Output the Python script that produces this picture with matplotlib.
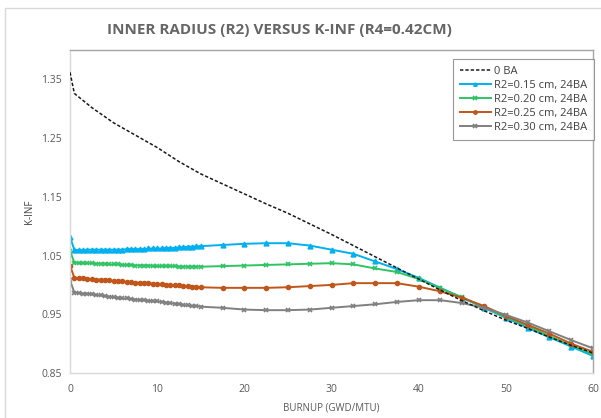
import matplotlib
matplotlib.use("Agg")
import matplotlib.pyplot as plt
from matplotlib.patches import Rectangle

# ---- data ----
burnup_dense = [i * 0.5 for i in range(31)]  # 0 .. 15
burnup_coarse = [17.5, 20, 22.5, 25, 27.5, 30, 32.5, 35, 37.5, 40, 42.5, 45,
                 47.5, 50, 52.5, 55, 57.5, 60]
burnup = burnup_dense + burnup_coarse

burnup_0ba = [0, 0.5, 2.5, 5, 7.5, 10, 12.5, 15, 17.5, 20, 22.5, 25, 27.5, 30,
              32.5, 35, 37.5, 40, 42.5, 45, 47.5, 50, 52.5, 55, 57.5, 60]
kinf_0ba = [1.362, 1.326, 1.302, 1.276, 1.255, 1.234, 1.210, 1.189, 1.172, 1.155,
            1.138, 1.122, 1.104, 1.086, 1.067, 1.048, 1.029, 1.010, 0.991, 0.973,
            0.956, 0.940, 0.926, 0.911, 0.897, 0.884]

kinf_r015 = [1.081, 1.060, 1.059, 1.059, 1.060, 1.060, 1.060, 1.060, 1.060, 1.060,
             1.060, 1.060, 1.060, 1.061, 1.061, 1.061, 1.061, 1.061, 1.062, 1.062,
             1.062, 1.062, 1.063, 1.063, 1.063, 1.064, 1.064, 1.065, 1.065, 1.066,
             1.066,
             1.068, 1.070, 1.071, 1.071, 1.067, 1.060, 1.053, 1.040, 1.027, 1.012,
             0.995, 0.978, 0.961, 0.944, 0.927, 0.911, 0.895, 0.879]
kinf_r020 = [1.058, 1.038, 1.037, 1.037, 1.037, 1.037, 1.036, 1.036, 1.036, 1.035,
             1.035, 1.035, 1.034, 1.034, 1.034, 1.033, 1.033, 1.033, 1.033, 1.032,
             1.032, 1.032, 1.032, 1.032, 1.032, 1.031, 1.031, 1.031, 1.031, 1.031,
             1.031,
             1.032, 1.033, 1.034, 1.035, 1.036, 1.037, 1.035, 1.028, 1.022, 1.010,
             0.994, 0.979, 0.962, 0.945, 0.930, 0.913, 0.897, 0.882]
kinf_r025 = [1.033, 1.012, 1.011, 1.011, 1.010, 1.010, 1.009, 1.009, 1.008, 1.008,
             1.007, 1.006, 1.006, 1.005, 1.005, 1.004, 1.004, 1.003, 1.003, 1.002,
             1.002, 1.001, 1.000, 1.000, 0.999, 0.999, 0.998, 0.998, 0.997, 0.997,
             0.996,
             0.995, 0.995, 0.995, 0.996, 0.998, 1.000, 1.003, 1.003, 1.003, 0.997,
             0.989, 0.978, 0.964, 0.947, 0.932, 0.917, 0.900, 0.886]
kinf_r030 = [1.008, 0.987, 0.986, 0.985, 0.985, 0.984, 0.983, 0.982, 0.981, 0.980,
             0.979, 0.978, 0.977, 0.977, 0.976, 0.975, 0.974, 0.974, 0.973, 0.972,
             0.972, 0.971, 0.970, 0.969, 0.968, 0.967, 0.966, 0.965, 0.964, 0.964,
             0.963,
             0.961, 0.958, 0.957, 0.957, 0.958, 0.961, 0.964, 0.967, 0.971, 0.974,
             0.974, 0.969, 0.961, 0.949, 0.936, 0.921, 0.906, 0.892]

labels = ["0 BA", "R2=0.15 cm, 24BA", "R2=0.20 cm, 24BA",
          "R2=0.25 cm, 24BA", "R2=0.30 cm, 24BA"]
x_ticks = [0, 10, 20, 30, 40, 50, 60]
y_ticks = [0.85, 0.95, 1.05, 1.15, 1.25, 1.35]

# ---- plot ----
plt.rcParams['font.family'] = ['Open Sans', 'DejaVu Sans']
fig = plt.figure(figsize=(6.01, 4.18), dpi=100)
fig.patch.set_facecolor('white')
fig.patches.append(Rectangle((5 / 601, -0.1), 1.2, 1 - 8 / 418 + 0.1,
                             transform=fig.transFigure, fill=False,
                             edgecolor='#d9d9d9', linewidth=1))

ax = fig.add_axes([70 / 601, 1 - 373 / 418, (593 - 70) / 601, (373 - 50) / 418])

ax.plot(burnup_0ba, kinf_0ba, color='#1a1a1a', linestyle=(0, (2.2, 1.3)),
        linewidth=1.1, label=labels[0], zorder=6)
ax.plot(burnup, kinf_r015, color='#00b0f0', linewidth=1.4, marker='^',
        markersize=3.5, label=labels[1])
ax.plot(burnup, kinf_r020, color='#2ec464', linewidth=1.4, marker='x',
        markersize=3.5, markeredgewidth=1.2, label=labels[2])
ax.plot(burnup, kinf_r025, color='#c0561a', linewidth=1.4, marker='o',
        markersize=3, label=labels[3])
ax.plot(burnup, kinf_r030, color='#808080', linewidth=1.4, marker='x',
        markersize=3.5, markeredgewidth=1.2, label=labels[4])

ax.set_xlim(0, 60)
ax.set_ylim(0.85, 1.40)
ax.set_xticks(x_ticks)
ax.set_yticks(y_ticks)
ax.set_yticklabels([f"{v:.2f}" for v in y_ticks])
ax.tick_params(length=0, labelsize=7.5, colors='#595959', pad=6)
ax.tick_params(axis='x', pad=8)

for s in ['left', 'bottom']:
    ax.spines[s].set_color('#d9d9d9')
for s in ['top', 'right']:
    ax.spines[s].set_color('#a6a6a6')
for s in ax.spines.values():
    s.set_linewidth(1.0)

ax.set_xlabel("BURNUP (GWD/MTU)", fontsize=7, color='#595959', labelpad=5)
ax.set_ylabel("K-INF", fontsize=7, color='#404040', labelpad=4)

fig.text(279 / 601, 1 - 30 / 418, "INNER RADIUS (R2) VERSUS K-INF (R4=0.42CM)",
         ha='center', va='center', fontsize=11, fontweight='bold', color='#666666')

leg = ax.legend(loc='upper right', bbox_to_anchor=(1.002, 0.972), fontsize=8,
                frameon=True, fancybox=False, handlelength=2.8, handletextpad=0.3,
                labelspacing=0.28, borderpad=0.6, borderaxespad=0)
leg.get_frame().set_edgecolor('#7f7f7f')
leg.get_frame().set_linewidth(0.8)
for t in leg.get_texts():
    t.set_color('#404040')
for h in leg.legend_handles:
    h.set_markersize(2.5)

fig.savefig("out.png", dpi=100, facecolor='white')
